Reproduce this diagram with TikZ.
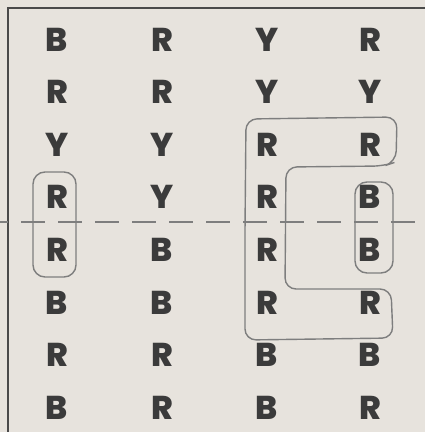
\documentclass[tikz,border=0pt]{standalone}
\usepackage{fontspec}
\setmainfont{Poppins}[BoldFont={* ExtraBold}]
\definecolor{bg}{HTML}{E7E3DD}
\definecolor{ink}{HTML}{3B3B3B}
\definecolor{pen}{HTML}{7E7E7E}
\definecolor{frame}{HTML}{4A4A4A}
\begin{document}
\begin{tikzpicture}[x=1pt,y=-1pt,
  letter/.style={font=\fontsize{33}{33}\selectfont\bfseries, text=ink, inner sep=0pt},
  ring/.style={draw=pen, line width=1.4pt, rounded corners=12pt},
  hook/.style={draw=pen, line width=1.4pt, rounded corners=11pt},
  split/.style={draw=pen, line width=2pt, dash pattern=on 24pt off 13pt, dash phase=16pt},
  border/.style={draw=frame, line width=2.4pt}]
\useasboundingbox[fill=bg] (0,0) rectangle (425,432);
% frame
\coordinate (ftl) at (8,8);
\coordinate (ftr) at (425,8);
\coordinate (fbl) at (8,432);
\draw[border] (fbl) -- (ftl) -- (ftr);
% letters
\def\cols{{57,162,267,370}}
\foreach \r/\row in {1/{B,R,Y,R},2/{R,R,Y,Y},3/{Y,Y,R,R},4/{R,Y,R,B},5/{R,B,R,B},6/{B,B,R,R},7/{R,R,B,B},8/{B,R,B,R}}{
  \foreach \L [count=\c] in \row {
    \pgfmathsetmacro{\xx}{\cols[\c-1]}
    \pgfmathsetmacro{\yy}{39.5+52.6*(\r-1)}
    \node[letter] (n\r\c) at (\xx,\yy) {\L};
  }
}
% dashed midline
\coordinate (dl) at (0,222);
\coordinate (dr) at (425,222);
\draw[split] (dl) -- (dr);
% left loop
\draw[ring] (33,172) rectangle (76,277);
% right small loop
\draw[ring] (355,182) rectangle (393,273);
% C-shaped loop
\draw[hook] (245,230) -- (246,119) -- (397,117) -- (396,162) -- (384,166)
  -- (286,167) -- (285,289) -- (391,289) -- (393,338) -- (245,340) -- cycle;
\end{tikzpicture}
\end{document}
